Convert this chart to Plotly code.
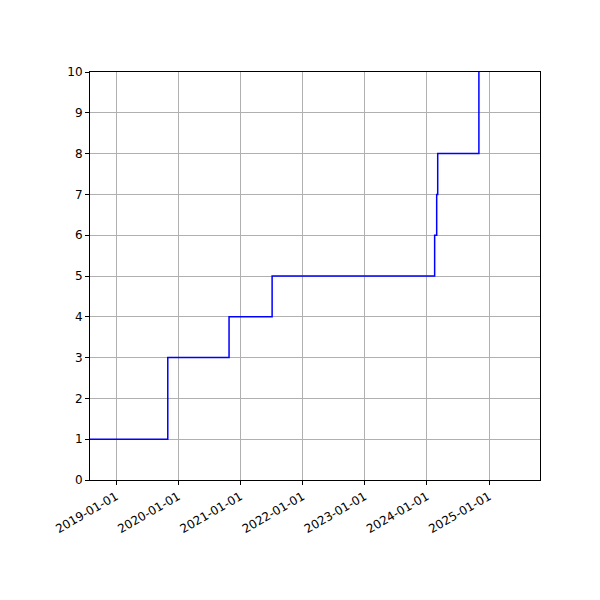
import plotly.graph_objects as go

dates = ["2018-08-01", "2019-11-01", "2020-10-26", "2021-07-06", "2024-02-16", "2024-02-28", "2024-03-05", "2024-11-02"]
values = [1, 3, 4, 5, 6, 7, 8, 10]
tick_vals = ["2019-01-01", "2020-01-01", "2021-01-01", "2022-01-01", "2023-01-01", "2024-01-01", "2025-01-01"]

fig = go.Figure(go.Scatter(x=dates, y=values, mode="lines", line=dict(color="blue", width=1.5, shape="hv")))
ax = dict(showline=True, linecolor="black", linewidth=1, mirror=True, showgrid=True, gridcolor="#b0b0b0",
          gridwidth=1, ticks="outside", ticklen=4, tickcolor="black", zeroline=False, automargin=False,
          tickfont=dict(family="DejaVu Sans", size=12, color="black"))
fig.update_layout(width=600, height=600, margin=dict(l=82, r=68, t=64, b=128, autoexpand=False),
                  plot_bgcolor="white", paper_bgcolor="white", showlegend=False)
fig.update_xaxes(**ax, range=["2018-08-01", "2025-10-27"], tickvals=tick_vals, ticktext=tick_vals, tickangle=-30)
fig.update_yaxes(**ax, range=[0, 10], dtick=1)
fig.write_html("out.html")
